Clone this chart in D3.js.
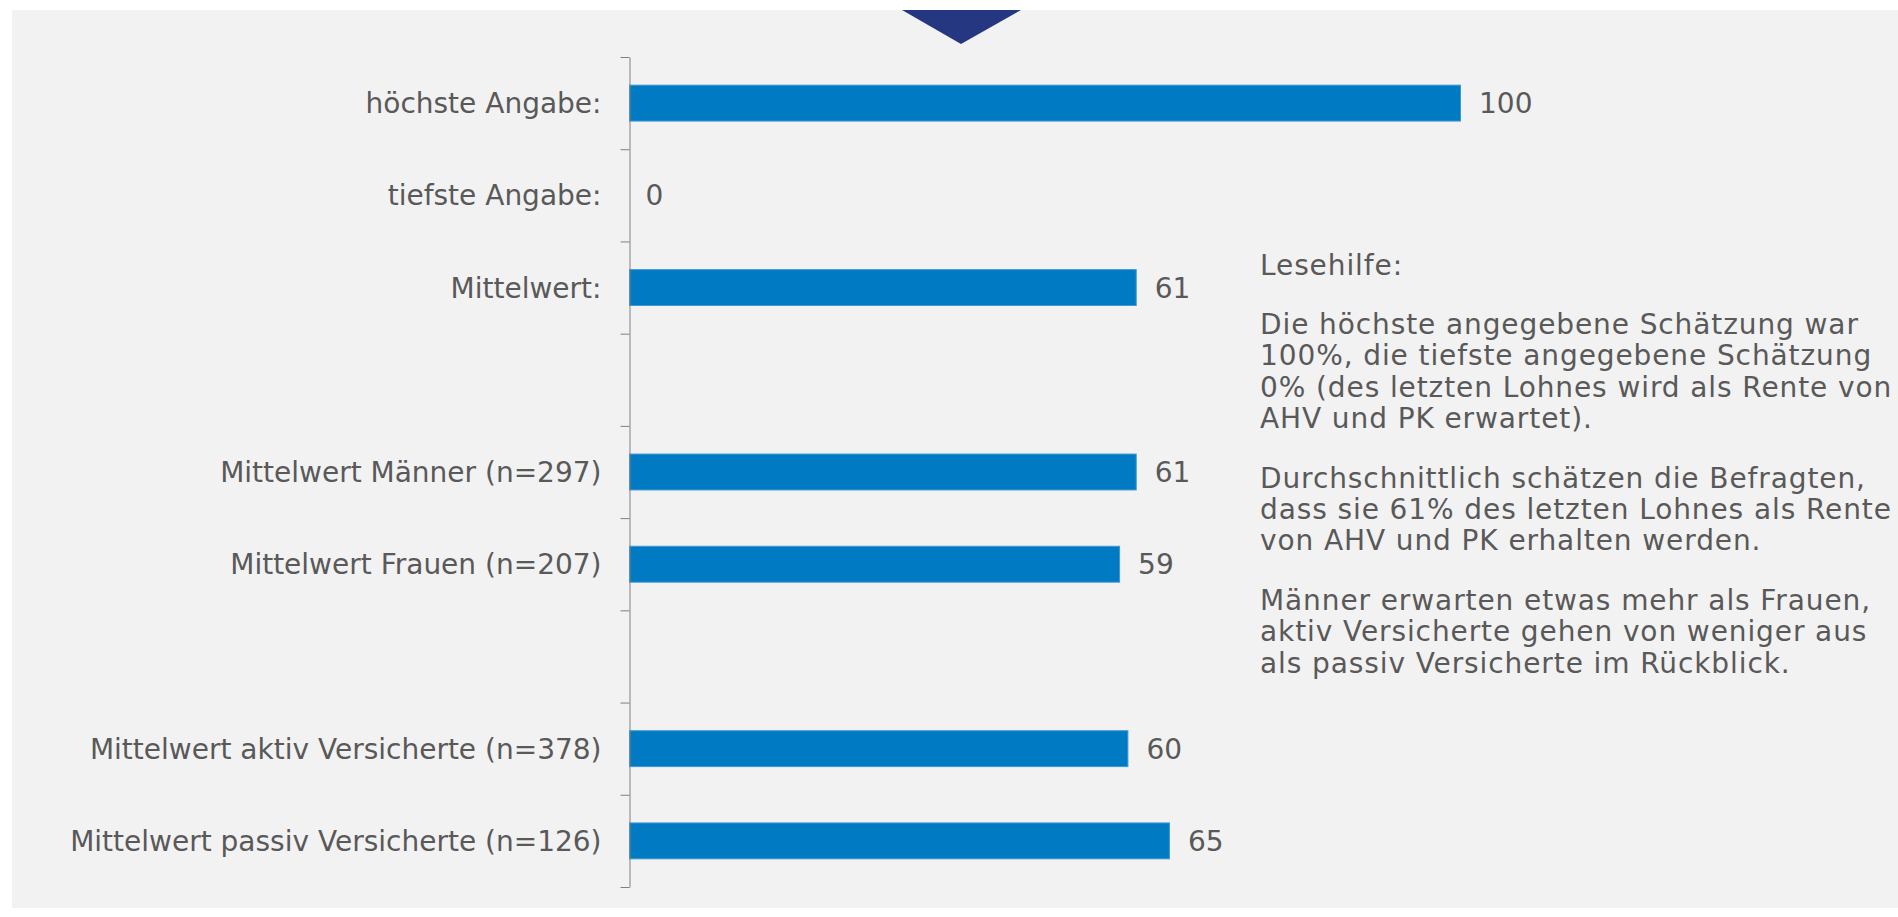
<!DOCTYPE html>
<html>
<head>
<meta charset="utf-8">
<script src="https://cdn.jsdelivr.net/npm/d3@7"></script>
<style>
  body { margin: 0; background: #ffffff; }
  svg text { font-family: "DejaVu Sans", Verdana, sans-serif; fill: #595959; }
</style>
</head>
<body>
<svg id="chart" width="1898" height="917"></svg>
<script>
// layout variables
const svgWidth = 1898;
const svgHeight = 917;
const axisX = 629.5;
const plotTop = 57;
const plotBottom = 887;
const plotRight = 1461;
const fontSize = 28;
const noteX = 1260;
const noteTop = 274.5;
const noteLineStep = 31.4;
const noteParaGap = 28;

// chart data (empty strings are spacer rows)
const categories = [
	"höchste Angabe:",
	"tiefste Angabe:",
	"Mittelwert:",
	"",
	"Mittelwert Männer (n=297)",
	"Mittelwert Frauen (n=207)",
	"",
	"Mittelwert aktiv Versicherte (n=378)",
	"Mittelwert passiv Versicherte (n=126)"
];
const values = [100, 0, 61, null, 61, 59, null, 60, 65];

// reading help text, one array per paragraph
const noteParagraphs = [
	["Lesehilfe:"],
	["Die höchste angegebene Schätzung war",
		"100%, die tiefste angegebene Schätzung",
		"0% (des letzten Lohnes wird als Rente von",
		"AHV und PK erwartet)."],
	["Durchschnittlich schätzen die Befragten,",
		"dass sie 61% des letzten Lohnes als Rente",
		"von AHV und PK erhalten werden."],
	["Männer erwarten etwas mehr als Frauen,",
		"aktiv Versicherte gehen von weniger aus",
		"als passiv Versicherte im Rückblick."]
];

// colours
const barColor = "#007ac2";
const barEdge = "#3d98d4";
const arrowColor = "#253780";

var svg = d3.select("#chart");

// grey slide background
svg.append("rect")
	.attr("x", 12)
	.attr("y", 10)
	.attr("width", svgWidth - 12)
	.attr("height", 898)
	.attr("fill", "#f2f2f2");

// navy triangle at the top
svg.append("path")
	.attr("d", "M902,10 L1021,10 L961,44 Z")
	.attr("fill", arrowColor);

// rows: use index as key so spacer rows stay unique
var rows = categories.map(function (c, i) {
	return { id: i, label: c, value: values[i] };
});

// y scale (band) and x scale (linear)
const yScale = d3
	.scaleBand()
	.domain(rows.map(d => d.id))
	.range([plotTop, plotBottom])
	.paddingInner(0.6)
	.paddingOuter(0.3);

const xScale = d3
	.scaleLinear()
	.domain([0, 100])
	.range([axisX, plotRight]);

// tick positions sit on the band borders
const borderScale = d3
	.scaleLinear()
	.domain([0, categories.length])
	.range([plotTop, plotBottom]);

var valued = rows.filter(d => d.value !== null);

// bars
svg.append("g")
	.selectAll("rect")
	.data(valued.filter(d => d.value > 0))
	.enter()
	.append("rect")
	.attr("x", xScale(0))
	.attr("y", d => yScale(d.id) + 0.5)
	.attr("width", d => xScale(d.value) - xScale(0) - 0.5)
	.attr("height", yScale.bandwidth() - 1)
	.attr("fill", barColor)
	.attr("stroke", barEdge)
	.attr("stroke-width", 1);

var yaxis = svg.append("g")
	.attr("transform", `translate(${axisX},0)`)
	.call(
		d3.axisLeft(borderScale)
			.tickValues(d3.range(categories.length + 1))
			.tickFormat("")
			.tickSize(9)
			.tickSizeOuter(0)
	);

yaxis.selectAll("path, line")
	.attr("stroke", "#808080")
	.attr("stroke-width", 1);

// category labels
svg.append("g")
	.selectAll("text")
	.data(rows.filter(d => d.label !== ""))
	.enter()
	.append("text")
	.attr("x", axisX - 28)
	.attr("y", d => yScale(d.id) + yScale.bandwidth() / 2)
	.attr("dy", "0.36em")
	.attr("text-anchor", "end")
	.style("font-size", fontSize + "px")
	.text(d => d.label);

// value labels
svg.append("g")
	.selectAll("text")
	.data(valued)
	.enter()
	.append("text")
	.attr("x", d => xScale(d.value) + (d.value === 0 ? 16 : 18))
	.attr("y", d => yScale(d.id) + yScale.bandwidth() / 2)
	.attr("dy", "0.36em")
	.style("font-size", fontSize + "px")
	.text(d => d.value);

// reading help block, baselines built paragraph by paragraph
var noteLines = [];
var lineY = noteTop;
noteParagraphs.forEach(function (para, p) {
	if (p > 0) lineY += noteLineStep + noteParaGap;
	para.forEach(function (line, j) {
		if (j > 0) lineY += noteLineStep;
		noteLines.push({ text: line, y: lineY });
	});
});

svg.append("g")
	.selectAll("text")
	.data(noteLines)
	.enter()
	.append("text")
	.attr("x", noteX)
	.attr("y", d => d.y)
	.style("font-size", fontSize + "px")
	.style("letter-spacing", "0.9px")
	.text(d => d.text);
</script>
</body>
</html>
